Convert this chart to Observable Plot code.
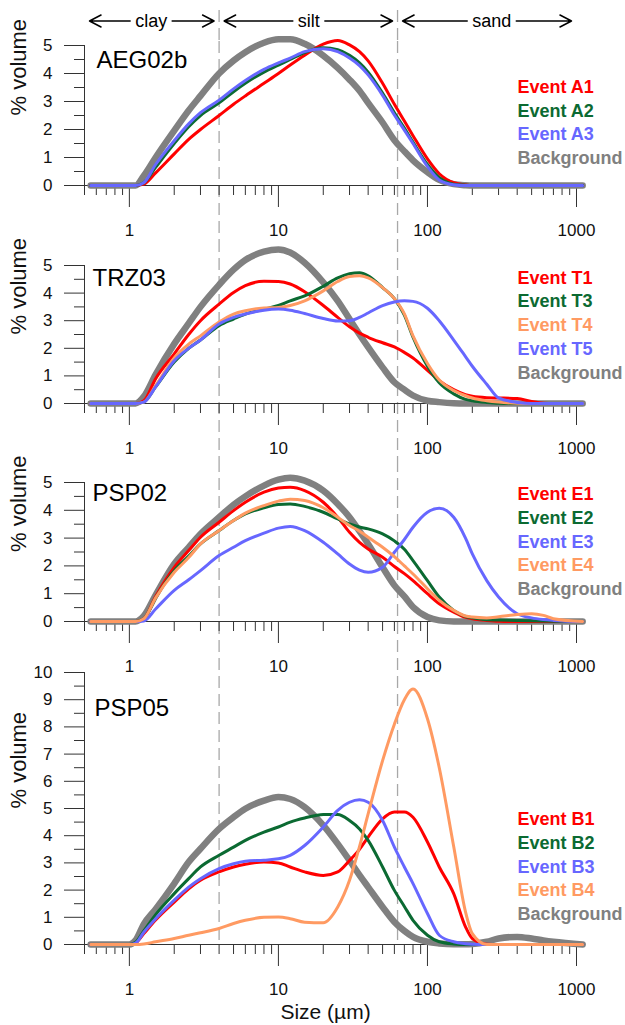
<!DOCTYPE html>
<html>
<head>
<meta charset="utf-8">
<script src="https://cdn.jsdelivr.net/npm/d3@7"></script>
<script src="https://cdn.jsdelivr.net/npm/@observablehq/plot@0.6"></script>
<style>
  body { margin: 0; background: #fff; }
  #chart { position: relative; width: 625px; height: 1025px; font-family: "Liberation Sans", Arial, sans-serif; }
  #chart svg { position: absolute; left: 0; overflow: visible; }
</style>
</head>
<body>
<div id="chart"></div>
<script>
// ---------- data ----------
const sizes = [0.55, 1.0, 1.1, 1.25, 1.5, 2, 2.5, 3, 4, 5, 6, 8, 10, 12, 15, 20, 25, 30, 35, 40, 50, 60, 70, 80, 100, 120, 150, 180, 200, 250, 300, 400, 500, 600, 700, 1100];

// AEG02b
const aegA1 = [0,0,0,0.05,0.45,1.13,1.65,2.0,2.5,2.9,3.2,3.65,4.0,4.3,4.65,5.05,5.18,5.02,4.78,4.45,3.65,2.9,2.3,1.78,0.95,0.42,0.1,0.02,0,0,0,0,0,0,0,0];
const aegA2 = [0,0,0,0.1,0.65,1.5,2.1,2.5,2.95,3.35,3.65,4.05,4.3,4.5,4.75,4.92,4.85,4.65,4.38,4.05,3.3,2.6,2.05,1.55,0.75,0.28,0.05,0.01,0,0,0,0,0,0,0,0];
const aegA3 = [0,0,0,0.1,0.75,1.6,2.2,2.6,3.05,3.45,3.75,4.15,4.38,4.55,4.78,4.88,4.78,4.55,4.28,3.95,3.22,2.52,1.98,1.5,0.68,0.2,0.03,0,0,0,0,0,0,0,0,0];
const aegBg = [0,0,0,0.35,1.0,1.96,2.68,3.2,4.0,4.46,4.76,5.1,5.22,5.22,5.06,4.64,4.2,3.78,3.38,2.95,2.25,1.62,1.22,0.9,0.48,0.2,0.05,0.01,0,0,0,0,0,0,0,0];

// TRZ03
const trzT1 = [0,0,0,0.1,0.9,1.8,2.5,3.0,3.6,4.02,4.27,4.43,4.42,4.33,4.05,3.55,3.12,2.78,2.55,2.4,2.2,2.05,1.85,1.65,1.2,0.83,0.5,0.32,0.26,0.21,0.2,0.18,0.07,0.01,0,0];
const trzT3 = [0,0,0,0.05,0.6,1.5,2.0,2.3,2.82,3.06,3.24,3.42,3.55,3.72,3.9,4.25,4.55,4.7,4.74,4.63,4.2,3.8,3.2,2.4,1.35,0.75,0.35,0.15,0.1,0.04,0.01,0,0,0,0,0];
const trzT4 = [0,0,0,0.05,0.65,1.65,2.15,2.45,2.95,3.24,3.36,3.46,3.48,3.55,3.72,4.08,4.42,4.6,4.63,4.55,4.2,3.8,3.25,2.45,1.45,0.85,0.47,0.28,0.2,0.1,0.05,0.01,0,0,0,0];
const trzT5 = [0,0,0,0.05,0.6,1.55,2.0,2.3,2.88,3.12,3.24,3.38,3.42,3.38,3.26,3.08,2.99,3.0,3.12,3.28,3.55,3.68,3.72,3.7,3.45,3.0,2.3,1.7,1.35,0.7,0.2,0.04,0,0,0,0];
const trzBg = [0,0,0,0.25,1.05,2.16,2.9,3.5,4.3,4.85,5.2,5.5,5.58,5.47,5.1,4.39,3.72,3.06,2.5,2.04,1.31,0.77,0.5,0.29,0.1,0.05,0.01,0,0,0,0,0,0,0,0,0];

// PSP02
const p02E1 = [0,0,0,0.1,0.9,1.95,2.55,3.03,3.57,3.99,4.29,4.65,4.8,4.83,4.71,4.29,3.75,3.21,2.85,2.61,2.31,1.98,1.72,1.47,1.0,0.64,0.34,0.15,0.1,0.04,0.01,0,0,0,0,0];
const p02E2 = [0,0,0,0.1,0.85,1.83,2.35,2.79,3.27,3.63,3.87,4.09,4.21,4.23,4.14,3.93,3.69,3.51,3.4,3.33,3.15,2.9,2.6,2.19,1.47,0.88,0.4,0.18,0.13,0.06,0.05,0.04,0.03,0.02,0.01,0];
const p02E3 = [0,0,0,0.02,0.45,1.12,1.5,1.83,2.37,2.67,2.91,3.18,3.36,3.42,3.27,2.85,2.43,2.07,1.85,1.77,1.95,2.49,2.95,3.39,3.93,4.07,3.75,3.0,2.43,1.47,0.88,0.28,0.13,0.07,0.04,0];
const p02E4 = [0,0,0,0.1,0.85,1.77,2.3,2.79,3.27,3.63,3.9,4.17,4.33,4.4,4.35,4.09,3.75,3.45,3.25,3.03,2.67,2.33,2.0,1.71,1.18,0.76,0.4,0.2,0.16,0.13,0.17,0.25,0.28,0.22,0.1,0];
const p02Bg = [0,0,0,0.2,0.95,2.07,2.67,3.15,3.75,4.2,4.5,4.89,5.1,5.17,5.07,4.71,4.23,3.75,3.25,2.79,1.95,1.3,0.9,0.52,0.16,0.04,0,0,0,0,0,0,0,0,0,0];

// PSP05
const p05B1 = [0,0,0.05,0.4,0.9,1.56,2.05,2.36,2.67,2.85,2.95,3.03,3.0,2.85,2.67,2.54,2.67,3.09,3.5,3.95,4.62,4.87,4.87,4.68,3.77,2.85,1.87,0.65,0.22,0.01,0,0,0,0,0,0];
const p05B2 = [0,0,0.08,0.5,1.1,1.87,2.42,2.85,3.28,3.58,3.83,4.13,4.32,4.5,4.65,4.78,4.78,4.56,4.25,3.83,2.85,1.99,1.4,0.89,0.34,0.1,0.02,0,0,0,0,0,0,0,0,0];
const p05B3 = [0,0,0.05,0.45,0.95,1.63,2.11,2.42,2.79,2.97,3.06,3.1,3.15,3.28,3.64,4.32,4.93,5.23,5.32,5.23,4.56,3.58,2.85,2.24,1.14,0.34,0.1,0.03,0.01,0,0,0,0,0,0,0];
const p05B4 = [0,0,0,0.02,0.1,0.22,0.34,0.43,0.59,0.77,0.89,1.0,1.01,0.95,0.82,0.8,1.38,2.36,3.6,4.8,6.76,8.1,9.0,9.39,8.3,6.5,3.6,1.2,0.4,0,0,0,0,0,0,0];
const p05Bg = [0,0,0.15,0.75,1.3,2.24,3.03,3.52,4.25,4.68,4.99,5.29,5.42,5.35,5.05,4.38,3.7,3.09,2.55,2.11,1.38,0.83,0.5,0.28,0.1,0.04,0.01,0.01,0.02,0.1,0.22,0.28,0.22,0.15,0.1,0];

// size classes (header)
const classNames = ["clay", "silt", "sand"];
const classLo = [0.5, 4, 63];
const classHi = [4, 63, 1000];
const classLabelAt = [1.4, 16, 270];
const boundaries = [4, 63];

// tick values
const xMajor = [1, 10, 100, 1000];
const xMinor = [0.5,0.6,0.7,0.8,0.9, 2,3,4,5,6,7,8,9, 20,30,40,50,60,70,80,90, 200,300,400,500,600,700,800,900];

// ---------- styles ----------
const C = { red: "#ff0000", green: "#0b6a32", blue: "#6767ff", orange: "#ff9a62", gray: "#808080" };
const FONT = "'Liberation Sans', Arial, Helvetica, sans-serif";
const axisColor = "#333";
const dashColor = "#a8a8a8";
const W = 625, ML = 84, MR = 49;
const xScale = { type: "log", domain: [0.5, 1000] };

const panels = [
  { name: "AEG02b", ymax: 5, top: 41, height: 199, mt: 4, mb: 55, ruleTop: 4, ruleBottom: 55, ldx: 12, ldy: 22, legBottom: 27,
    series: [["Event A1", aegA1, C.red], ["Event A2", aegA2, C.green], ["Event A3", aegA3, C.blue], ["Background", aegBg, C.gray]] },
  { name: "TRZ03", ymax: 5, top: 240, height: 220, mt: 25, mb: 57, ruleTop: 25, ruleBottom: 57, ldx: 8, ldy: 20, legBottom: 30.5,
    series: [["Event T1", trzT1, C.red], ["Event T3", trzT3, C.green], ["Event T4", trzT4, C.orange], ["Event T5", trzT5, C.blue], ["Background", trzBg, C.gray]] },
  { name: "PSP02", ymax: 5, top: 460, height: 220, mt: 22, mb: 59, ruleTop: 22, ruleBottom: 19, ldx: 8, ldy: 18, legBottom: 32,
    series: [["Event E1", p02E1, C.red], ["Event E2", p02E2, C.green], ["Event E3", p02E3, C.blue], ["Event E4", p02E4, C.orange], ["Background", p02Bg, C.gray]] },
  { name: "PSP05", ymax: 10, top: 640, height: 385, mt: 32, mb: 81, ruleTop: 32, ruleBottom: 0, ldx: 10, ldy: 43, legBottom: 30, xlabel: "Size (µm)",
    series: [["Event B1", p05B1, C.red], ["Event B2", p05B2, C.green], ["Event B3", p05B3, C.blue], ["Event B4", p05B4, C.orange], ["Background", p05Bg, C.gray]] }
];

const chart = document.getElementById("chart");
function place(svg, top) { svg.style.position = "absolute"; svg.style.top = top + "px"; svg.style.left = "0px"; chart.appendChild(svg); }
const styleObj = { fontFamily: FONT, background: "transparent", overflow: "visible" };

// text width measurement for arrow insets
const ctx = document.createElement("canvas").getContext("2d");
ctx.font = "18px " + FONT;

// ---------- header ----------
const classes = classNames.map((n, i) => ({ name: n, lo: classLo[i], hi: classHi[i], mid: classLabelAt[i] }));
const headerMarks = [
  Plot.ruleX(boundaries, { stroke: dashColor, strokeWidth: 1.3, strokeDasharray: "12,6", insetTop: 10 })
];
classes.forEach(c => {
  const hw = ctx.measureText(c.name).width / 2 + 5;
  const common = { y1: 0.5, y2: 0.5, stroke: "#000", strokeWidth: 1.5, headLength: 13, headAngle: 55, insetStart: hw, insetEnd: 5 };
  headerMarks.push(Plot.arrow([c], { x1: "mid", x2: "lo", ...common }));
  headerMarks.push(Plot.arrow([c], { x1: "mid", x2: "hi", ...common }));
});
headerMarks.push(Plot.text(classes, { x: "mid", frameAnchor: "middle", text: "name", fontSize: 18, fill: "#000", lineAnchor: "middle" }));
place(Plot.plot({
  width: W, height: 41, marginTop: 0, marginBottom: 0, marginLeft: ML, marginRight: MR,
  x: { ...xScale, axis: null }, y: { domain: [0, 1], axis: null },
  style: styleObj, marks: headerMarks
}), 0);

// ---------- panels ----------
panels.forEach(p => {
  const n = p.series.length;
  const yMajor = d3.range(0, p.ymax + 1);
  const yMinor = d3.range(0.5, p.ymax, 1);
  const marks = [
    Plot.ruleX(boundaries, { stroke: dashColor, strokeWidth: 1.3, strokeDasharray: "12,6", insetTop: -p.ruleTop, insetBottom: -p.ruleBottom }),
    Plot.ruleY([0], { stroke: axisColor, strokeWidth: 1 }),
    Plot.ruleX([0.5], { y1: 0, y2: p.ymax, stroke: axisColor, strokeWidth: 1 }),
    Plot.axisY({ ticks: yMajor, tickSize: 20, tickPadding: 12, fontSize: 17, color: axisColor, fill: "#111", label: null, tickFormat: d => String(d) }),
    Plot.axisY({ ticks: yMinor, tickSize: 10, color: axisColor, label: null, tickFormat: () => "" }),
    Plot.axisX({ ticks: xMajor, tickSize: 22, tickPadding: 16, fontSize: 17, color: axisColor, fill: "#111", label: null, tickFormat: d => String(d) }),
    Plot.axisX({ ticks: xMinor, tickSize: 10, color: axisColor, label: null, tickFormat: () => "" }),
    Plot.text(["% volume"], { frameAnchor: "left", rotate: -90, dx: -66, fontSize: 22, lineAnchor: "middle", fill: "#111", text: d => d })
  ];
  // background first, then events in legend order
  const order = [p.series[n - 1], ...p.series.slice(0, n - 1)];
  order.forEach(([label, vals, color]) => {
    const rows = sizes.map((s, i) => ({ size: s, value: vals[i] }));
    marks.push(Plot.line(rows, {
      x: "size", y: "value", stroke: color,
      strokeWidth: label === "Background" ? 6.5 : 3,
      curve: "monotone-x", strokeLinecap: "round", strokeLinejoin: "round"
    }));
  });
  marks.push(Plot.text([p.name], { frameAnchor: "top-left", dx: p.ldx, dy: p.ldy, textAnchor: "start", lineAnchor: "bottom", fontSize: 24, fill: "#000", text: d => d }));
  p.series.forEach(([label, vals, color], i) => {
    marks.push(Plot.text([label], {
      frameAnchor: "bottom-right", dx: -59, dy: -(p.legBottom + (n - 1 - i) * 23.8),
      textAnchor: "start", lineAnchor: "middle", fontSize: 18, fontWeight: "bold", fill: color, text: d => d
    }));
  });
  if (p.xlabel) {
    marks.push(Plot.text([p.xlabel], { frameAnchor: "bottom", dx: -5, dy: 74, lineAnchor: "bottom", fontSize: 21, fill: "#111", text: d => d }));
  }
  place(Plot.plot({
    width: W, height: p.height, marginTop: p.mt, marginBottom: p.mb, marginLeft: ML, marginRight: MR,
    x: xScale, y: { domain: [0, p.ymax] },
    style: styleObj, marks
  }), p.top);
});
</script>
</body>
</html>
